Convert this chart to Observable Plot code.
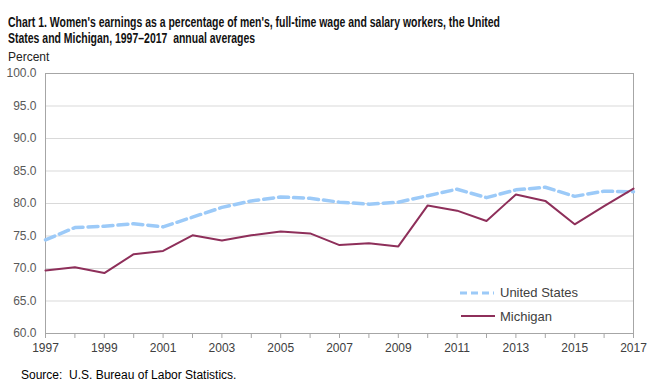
<!DOCTYPE html>
<html>
<head>
<meta charset="utf-8">
<script src="https://cdn.jsdelivr.net/npm/d3@7"></script>
<script src="https://cdn.jsdelivr.net/npm/@observablehq/plot@0.6"></script>
<style>
  html, body { margin: 0; padding: 0; background: #fff; width: 664px; height: 392px; overflow: hidden; }
  body { position: relative; font-family: "Liberation Sans", Arial, sans-serif; }
  #title { position: absolute; left: 8px; top: 14px; font-size: 15px; font-weight: bold; line-height: 16px; color: #111;
           white-space: nowrap; transform-origin: 0 0; }
  #percent { position: absolute; left: 8px; top: 50px; font-size: 12px; color: #222; }
  #source { position: absolute; left: 21px; top: 368px; font-size: 12px; color: #000; }
  #chart { position: absolute; left: 0; top: 48px; }
  .leg { position: absolute; font-size: 13px; color: #404040; }
</style>
</head>
<body>
<div id="title"><div id="t1">Chart 1. Women's earnings as a percentage of men's, full-time wage and salary workers, the United</div><div id="t2">States and Michigan, 1997–2017&nbsp; annual averages</div></div>
<div id="percent">Percent</div>
<div id="chart"></div>
<div id="source">Source:&nbsp; U.S. Bureau of Labor Statistics.</div>
<svg style="position:absolute;left:460px;top:288px" width="36" height="10"><line x1="0" x2="34" y1="5" y2="5" stroke="#9ccaf8" stroke-width="3" stroke-dasharray="7,4"/></svg>
<div class="leg" style="left:500px;top:285px">United States</div>
<svg style="position:absolute;left:461px;top:311px" width="36" height="10"><line x1="0" x2="34" y1="5" y2="5" stroke="#8e2f5a" stroke-width="2"/></svg>
<div class="leg" style="left:500px;top:309px">Michigan</div>
<script>
const years = [1997,1998,1999,2000,2001,2002,2003,2004,2005,2006,2007,2008,2009,2010,2011,2012,2013,2014,2015,2016,2017];
const unitedStates = [74.4,76.3,76.5,76.9,76.4,77.9,79.4,80.4,81.0,80.8,80.2,79.9,80.2,81.2,82.2,80.9,82.1,82.5,81.1,81.9,81.8];
const michigan = [69.7,70.2,69.3,72.2,72.7,75.1,74.3,75.1,75.7,75.4,73.6,73.9,73.4,79.7,78.9,77.3,81.4,80.4,76.8,79.6,82.3];
const yTicks = [60,65,70,75,80,85,90,95,100];
const xLabelYears = [1997,1999,2001,2003,2005,2007,2009,2011,2013,2015,2017];

const usData = years.map((y, i) => ({year: y, value: unitedStates[i]}));
const miData = years.map((y, i) => ({year: y, value: michigan[i]}));

const chart = Plot.plot({
  width: 664,
  height: 312,
  marginLeft: 45,
  marginRight: 31,
  marginTop: 25,
  marginBottom: 27,
  style: {fontFamily: "'Liberation Sans', Arial, sans-serif", fontSize: "12px", color: "#595959", background: "transparent"},
  x: {domain: [1997, 2017]},
  y: {domain: [60, 100]},
  marks: [
    Plot.gridY(yTicks, {stroke: "#d9d9d9", strokeOpacity: 1}),
    Plot.frame({stroke: "#a6a6a6"}),
    Plot.axisX(years, {tickSize: 5, tickPadding: 5, tickFormat: d => xLabelYears.includes(d) ? String(d) : "", label: null, stroke: "#a6a6a6", fill: "#404040", fontSize: 12}),
    Plot.axisY(yTicks, {tickSize: 0, tickPadding: 9, tickFormat: d => d.toFixed(1), label: null, fill: "#595959", fontSize: 12}),
    Plot.line(usData, {x: "year", y: "value", stroke: "#9ccaf8", strokeWidth: 3.5, strokeDasharray: "10,5"}),
    Plot.line(miData, {x: "year", y: "value", stroke: "#8e2f5a", strokeWidth: 2})
  ]
});
document.getElementById("chart").appendChild(chart);

// fit title lines to reference width
const t = document.getElementById("t1");
const w = t.getBoundingClientRect().width;
const target = 492;
if (w > 0) document.getElementById("title").style.transform = `scaleX(${target / w})`;
</script>
</body>
</html>
